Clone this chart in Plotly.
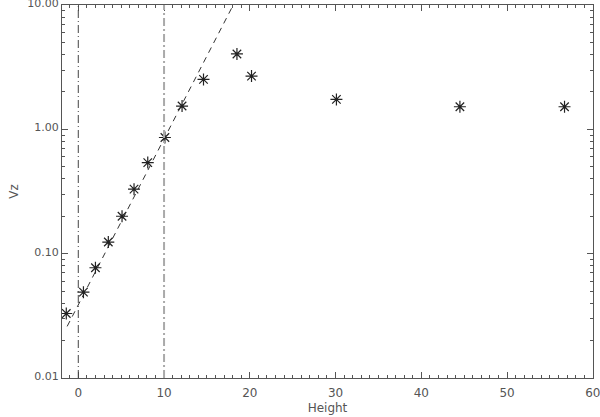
import plotly.graph_objects as go

height = [-1.4, 0.6, 2.0, 3.5, 5.1, 6.5, 8.1, 10.1, 12.1, 14.6, 18.5, 20.2, 30.1, 44.5, 56.7]
vz = [0.033, 0.049, 0.077, 0.124, 0.20, 0.33, 0.54, 0.86, 1.54, 2.52, 4.04, 2.68, 1.74, 1.52, 1.52]

fit_x = [-1.3, 18.1]
fit_y = [0.026, 10.1]

vline_black_x = 0
vline_gray_x = 10

ytick_vals = [0.01, 0.1, 1, 10]
ytick_text = ["0.01", "0.10", "1.00", "10.00"]

font_col = "#555555"
axis_col = "#555555"

fig = go.Figure()
fig.add_trace(go.Scatter(x=fit_x, y=fit_y, mode="lines",
                         line=dict(color="#333333", width=1, dash="6px,5px"),
                         showlegend=False, cliponaxis=True))
fig.add_trace(go.Scatter(x=height, y=vz, mode="markers",
                         marker=dict(symbol="asterisk-open", size=10, color="#222222",
                                     line=dict(color="#222222", width=1.2)),
                         showlegend=False))

fig.add_shape(type="line", x0=vline_black_x, x1=vline_black_x, y0=0, y1=1,
              xref="x", yref="paper",
              line=dict(color="#444444", width=1, dash="8px,3px,1px,3px"))
fig.add_shape(type="line", x0=vline_gray_x, x1=vline_gray_x, y0=0, y1=1,
              xref="x", yref="paper",
              line=dict(color="#aaaaaa", width=2, dash="8px,3px,2px,3px"))

fig.update_layout(
    width=600, height=417,
    margin=dict(l=62, r=7, t=5, b=39, autoexpand=False),
    plot_bgcolor="white", paper_bgcolor="white",
    font=dict(family="DejaVu Sans", size=12, color=font_col),
    xaxis=dict(range=[-1.9, 60.02], tickmode="linear", tick0=0, dtick=10,
               ticks="inside", ticklen=6, tickcolor=axis_col, automargin=False,
               ticklabeloverflow="allow", ticklabelstandoff=4,
               showline=True, linecolor=axis_col, linewidth=1, mirror="ticks",
               showgrid=False, zeroline=False,
               minor=dict(dtick=1, tick0=0, ticks="inside", ticklen=3, tickcolor=axis_col, showgrid=False),
               title=dict(text="Height", standoff=4, font=dict(size=12)),
               tickfont=dict(size=12)),
    yaxis=dict(type="log", range=[-2.0002, 1.0002], tickvals=ytick_vals, ticktext=ytick_text,
               ticks="inside", ticklen=6, tickcolor=axis_col, automargin=False,
               ticklabeloverflow="allow", ticklabelshift=-2,
               showline=True, linecolor=axis_col, linewidth=1, mirror="ticks",
               showgrid=False, zeroline=False,
               minor=dict(dtick="D1", ticks="inside", ticklen=3, tickcolor=axis_col, showgrid=False),
               title=dict(text="Vz", standoff=6, font=dict(size=12)),
               tickfont=dict(size=11)),
)

fig.write_html("out.html", config={"displayModeBar": False},
               post_script="document.body.style.margin='0';document.body.style.overflow='hidden';")
